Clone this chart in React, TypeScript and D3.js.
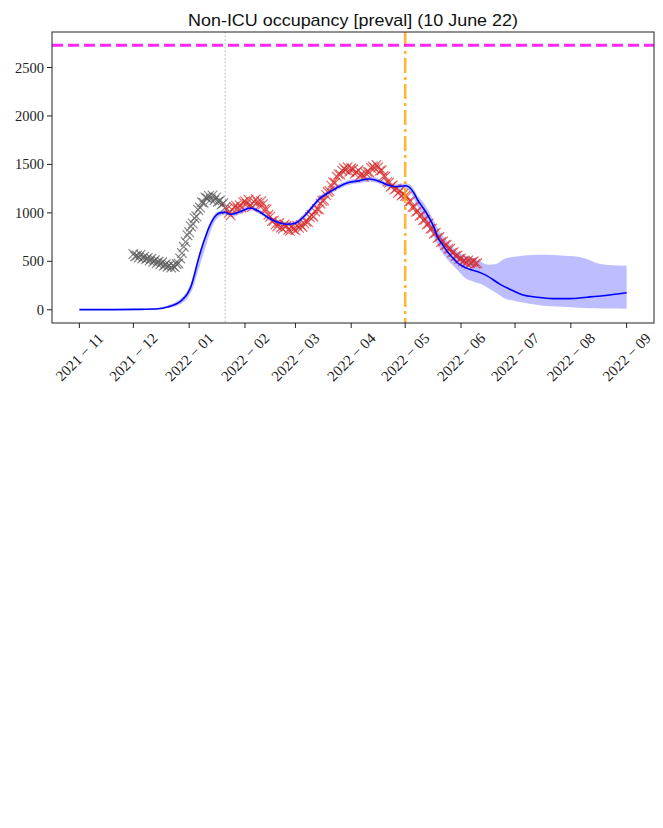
import React from "react";
import * as d3 from "d3";

// ---- data ----
const titleText = "Non-ICU occupancy [preval] (10 June 22)";
const yTicks = [0, 500, 1000, 1500, 2000, 2500];
const xTickDates = [
  "2021-11-01", "2021-12-01", "2022-01-01", "2022-02-01", "2022-03-01", "2022-04-01",
  "2022-05-01", "2022-06-01", "2022-07-01", "2022-08-01", "2022-09-01",
];
const capacityLevel = 2730;
const splitDate = "2022-01-21";
const forecastStart = "2022-05-01";

// model median
const medianDates = [
  "2021-11-01", "2021-11-20", "2021-12-05", "2021-12-15", "2021-12-20", "2021-12-25", "2021-12-28",
  "2021-12-31", "2022-01-02", "2022-01-04", "2022-01-06", "2022-01-08", "2022-01-10", "2022-01-12",
  "2022-01-14", "2022-01-16", "2022-01-18", "2022-01-21", "2022-01-24", "2022-01-29", "2022-02-04",
  "2022-02-09", "2022-02-14", "2022-02-20", "2022-02-25", "2022-03-01", "2022-03-05", "2022-03-09",
  "2022-03-14", "2022-03-20", "2022-03-25", "2022-03-31", "2022-04-05", "2022-04-11", "2022-04-16",
  "2022-04-21", "2022-04-26", "2022-05-01", "2022-05-03", "2022-05-06", "2022-05-08", "2022-05-11",
  "2022-05-14", "2022-05-17", "2022-05-19", "2022-05-22", "2022-05-25", "2022-05-28", "2022-05-30",
  "2022-06-02", "2022-06-04", "2022-06-07", "2022-06-10", "2022-06-15", "2022-06-23", "2022-06-29",
  "2022-07-05", "2022-07-13", "2022-07-22", "2022-07-31", "2022-08-10", "2022-08-19", "2022-09-01",
];
const medianValues = [
  2, 2, 4, 10, 28, 62, 100,
  165, 240, 370, 515, 640, 750, 850,
  925, 975, 1000, 1005, 985, 1010, 1050,
  1012, 950, 898, 882, 893, 950, 1030,
  1140, 1215, 1270, 1315, 1330, 1350, 1330,
  1290, 1270, 1280, 1268, 1200, 1130, 1050,
  960, 850, 750, 665, 585, 525, 485,
  450, 430, 410, 395, 355, 260, 205,
  155, 130, 115, 115, 130, 145, 175,
];

// model credible band
const bandDates = [
  "2021-11-01", "2021-12-10", "2021-12-20", "2021-12-26", "2021-12-31", "2022-01-03", "2022-01-06",
  "2022-01-09", "2022-01-12", "2022-01-15", "2022-01-18", "2022-01-21", "2022-01-25", "2022-01-29",
  "2022-02-04", "2022-02-09", "2022-02-14", "2022-02-20", "2022-02-25", "2022-03-01", "2022-03-05",
  "2022-03-09", "2022-03-14", "2022-03-20", "2022-03-25", "2022-03-31", "2022-04-05", "2022-04-11",
  "2022-04-16", "2022-04-21", "2022-04-26", "2022-05-01", "2022-05-04", "2022-05-08", "2022-05-11",
  "2022-05-14", "2022-05-17", "2022-05-20", "2022-05-25", "2022-05-30", "2022-06-03", "2022-06-08",
  "2022-06-12", "2022-06-16", "2022-06-20", "2022-06-25", "2022-07-02", "2022-07-10", "2022-07-18",
  "2022-07-28", "2022-08-05", "2022-08-10", "2022-08-15", "2022-08-22", "2022-09-01",
];
const bandLower = [
  0, 2, 20, 50, 120, 220, 400,
  580, 760, 900, 965, 980, 960, 985,
  1025, 990, 925, 875, 860, 870, 925,
  1000, 1110, 1190, 1245, 1290, 1305, 1325,
  1305, 1265, 1245, 1255, 1210, 1060, 960,
  860, 750, 640, 505, 410, 330, 290,
  265, 225, 180, 120, 85, 60, 40,
  30, 22, 18, 15, 12, 10,
];
const bandUpper = [
  6, 14, 45, 95, 200, 330, 540,
  720, 870, 985, 1020, 1030, 1010, 1035,
  1075, 1035, 975, 920, 905, 915, 975,
  1055, 1165, 1240, 1295, 1340, 1355, 1375,
  1355, 1315, 1295, 1305, 1285, 1175, 1110,
  1020, 910, 810, 690, 600, 560, 535,
  495, 465, 470, 525, 550, 565, 568,
  558, 548, 525, 485, 462, 455,
];

// daily occupancy, earlier period (from 1 Dec 2021)
const earlyStart = "2021-12-01";
const earlyValues = [
  575, 552, 560, 540, 568, 530, 548, 520, 535, 508,
  526, 495, 512, 482, 498, 470, 490, 455, 470, 445,
  458, 436, 455, 440, 470, 478, 530, 585, 650, 700,
  770, 800, 860, 890, 945, 965, 1030, 1055, 1110, 1105,
  1160, 1150, 1175, 1140, 1180, 1130, 1160, 1115, 1125, 1085,
  1100, 1055,
];

// daily occupancy, fitting period (from 22 Jan 2022)
const fitStart = "2022-01-22";
const fitValues = [
  // Jan
  1040, 1000, 975, 1030, 1060, 1075, 1045, 1080, 1055, 1110,
  // Feb
  1120, 1095, 1135, 1080, 1060, 1115, 1140, 1110, 1075, 1120,
  1090, 1040, 1035, 980, 960, 915, 920, 880, 860, 895,
  850, 835, 880, 865, 825, 815, 860, 830,
  // Mar
  820, 865, 845, 875, 855, 890, 910, 905, 955, 980,
  960, 1015, 1040, 1035, 1095, 1125, 1130, 1185, 1215, 1225,
  1280, 1315, 1310, 1375, 1400, 1395, 1435, 1460, 1440, 1470, 1425,
  // Apr
  1460, 1450, 1405, 1420, 1440, 1385, 1400, 1370, 1410, 1425,
  1420, 1465, 1480, 1460, 1495, 1470, 1435, 1440, 1380, 1375,
  1320, 1310, 1270, 1285, 1240, 1250, 1205, 1225, 1180, 1195,
  // May
  1175, 1170, 1115, 1120, 1060, 1060, 1010, 1020, 970, 975,
  925, 930, 880, 890, 835, 840, 785, 795, 740, 750,
  700, 705, 665, 670, 630, 630, 590, 595, 555, 560, 525,
  // Jun
  530, 500, 510, 485, 510, 480, 490, 500, 475, 480,
];

// ---- layout ----
const W = 663;
const H = 828;
const M = { left: 52, right: 654, top: 32, bottom: 323 };

const parse = d3.utcParse("%Y-%m-%d");

const serif = "'Liberation Serif', 'DejaVu Serif', serif";
const sans = "'Liberation Sans', 'DejaVu Sans', sans-serif";

function Cross({ x, y, s, color }: { x: number; y: number; s: number; color: string }) {
  return (
    <path
      d={`M${x - s},${y - s}L${x + s},${y + s}M${x - s},${y + s}L${x + s},${y - s}`}
      stroke={color}
      strokeWidth={1.2}
      strokeOpacity={0.7}
      fill="none"
    />
  );
}

export default function App() {
  const xStart = parse("2021-11-01")!;
  const xEnd = parse("2022-09-01")!;
  const span = (xEnd.getTime() - xStart.getTime()) * 0.05;
  const x = d3
    .scaleUtc()
    .domain([new Date(xStart.getTime() - span), new Date(xEnd.getTime() + span)])
    .range([M.left, M.right]);
  const yLo = 0;
  const yHi = capacityLevel;
  const yPad = (yHi - yLo) * 0.05;
  const y = d3.scaleLinear().domain([yLo - yPad, yHi + yPad]).range([M.bottom, M.top]);

  const median = medianDates.map((d, i) => ({ d: parse(d)!, v: medianValues[i] }));
  const band = bandDates.map((d, i) => ({ d: parse(d)!, lo: bandLower[i], hi: bandUpper[i] }));

  const line = d3
    .line<{ d: Date; v: number }>()
    .x((p) => x(p.d))
    .y((p) => y(p.v))
    .curve(d3.curveMonotoneX);
  const area = d3
    .area<{ d: Date; lo: number; hi: number }>()
    .x((p) => x(p.d))
    .y0((p) => y(p.lo))
    .y1((p) => y(p.hi))
    .curve(d3.curveMonotoneX);

  const early = earlyValues.map((v, i) => ({ d: d3.utcDay.offset(parse(earlyStart)!, i), v }));
  const fit = fitValues.map((v, i) => ({ d: d3.utcDay.offset(parse(fitStart)!, i), v }));

  const xSplit = x(parse(splitDate)!);
  const xForecast = x(parse(forecastStart)!);
  const fmt = d3.utcFormat("%Y");
  const fmtM = d3.utcFormat("%m");

  return (
    <svg
      width={W}
      height={H}
      style={{ position: "absolute", left: 0, top: 0, background: "#fff" }}
    >
      <rect x={0} y={0} width={W} height={H} fill="#fff" />
      <defs>
        <clipPath id="plot">
          <rect x={M.left} y={M.top} width={M.right - M.left} height={M.bottom - M.top} />
        </clipPath>
      </defs>

      <g clipPath="url(#plot)">
        <path d={area(band) ?? ""} fill="#0000ff" fillOpacity={0.26} stroke="none" />
        {early.map((p, i) => (
          <Cross key={"e" + i} x={x(p.d)} y={y(p.v)} s={4.8} color="#555555" />
        ))}
        {fit.map((p, i) => (
          <Cross key={"f" + i} x={x(p.d)} y={y(p.v)} s={4.8} color="#d62728" />
        ))}
        <path d={line(median) ?? ""} fill="none" stroke="#0000ff" strokeWidth={1.6} />
        <line
          x1={xSplit}
          x2={xSplit}
          y1={M.top}
          y2={M.bottom}
          stroke="#b0b0b0"
          strokeWidth={1}
          strokeDasharray="1.5,2.2"
        />
        <line
          x1={xForecast}
          x2={xForecast}
          y1={M.top}
          y2={M.bottom}
          stroke="#ffa500"
          strokeOpacity={0.8}
          strokeWidth={2.6}
          strokeDasharray="15,4,3,4"
        />
        <line
          x1={M.left}
          x2={M.right}
          y1={y(capacityLevel)}
          y2={y(capacityLevel)}
          stroke="#ff00ff"
          strokeOpacity={0.85}
          strokeWidth={3}
          strokeDasharray="11,5"
        />
      </g>

      {/* frame */}
      <rect
        x={M.left}
        y={M.top}
        width={M.right - M.left}
        height={M.bottom - M.top}
        fill="none"
        stroke="#222"
        strokeWidth={1}
      />

      {/* y axis */}
      {yTicks.map((t) => (
        <g key={"y" + t}>
          <line x1={M.left - 5} x2={M.left} y1={y(t)} y2={y(t)} stroke="#222" strokeWidth={1} />
          <text
            x={M.left - 8}
            y={y(t)}
            dy="0.35em"
            textAnchor="end"
            fontFamily={serif}
            fontSize={14.5}
            fill="#222"
          >
            {t}
          </text>
        </g>
      ))}

      {/* x axis */}
      {xTickDates.map((s) => {
        const d = parse(s)!;
        const tx = x(d);
        const cy = 357;
        return (
          <g key={s}>
            <line x1={tx} x2={tx} y1={M.bottom} y2={M.bottom + 5} stroke="#222" strokeWidth={1} />
            <text
              x={tx}
              y={cy}
              dy="0.35em"
              textAnchor="middle"
              fontFamily={serif}
              fontSize={15}
              fill="#222"
              transform={`rotate(-45 ${tx} ${cy})`}
            >
              {`${fmt(d)}\u2005\u2212\u2005${fmtM(d)}`}
            </text>
          </g>
        );
      })}

      {/* title */}
      <text
        x={(M.left + M.right) / 2}
        y={26}
        textAnchor="middle"
        fontFamily={sans}
        fontSize={17}
        fill="#111"
        textLength={330}
        lengthAdjust="spacingAndGlyphs"
      >
        {titleText}
      </text>
    </svg>
  );
}
